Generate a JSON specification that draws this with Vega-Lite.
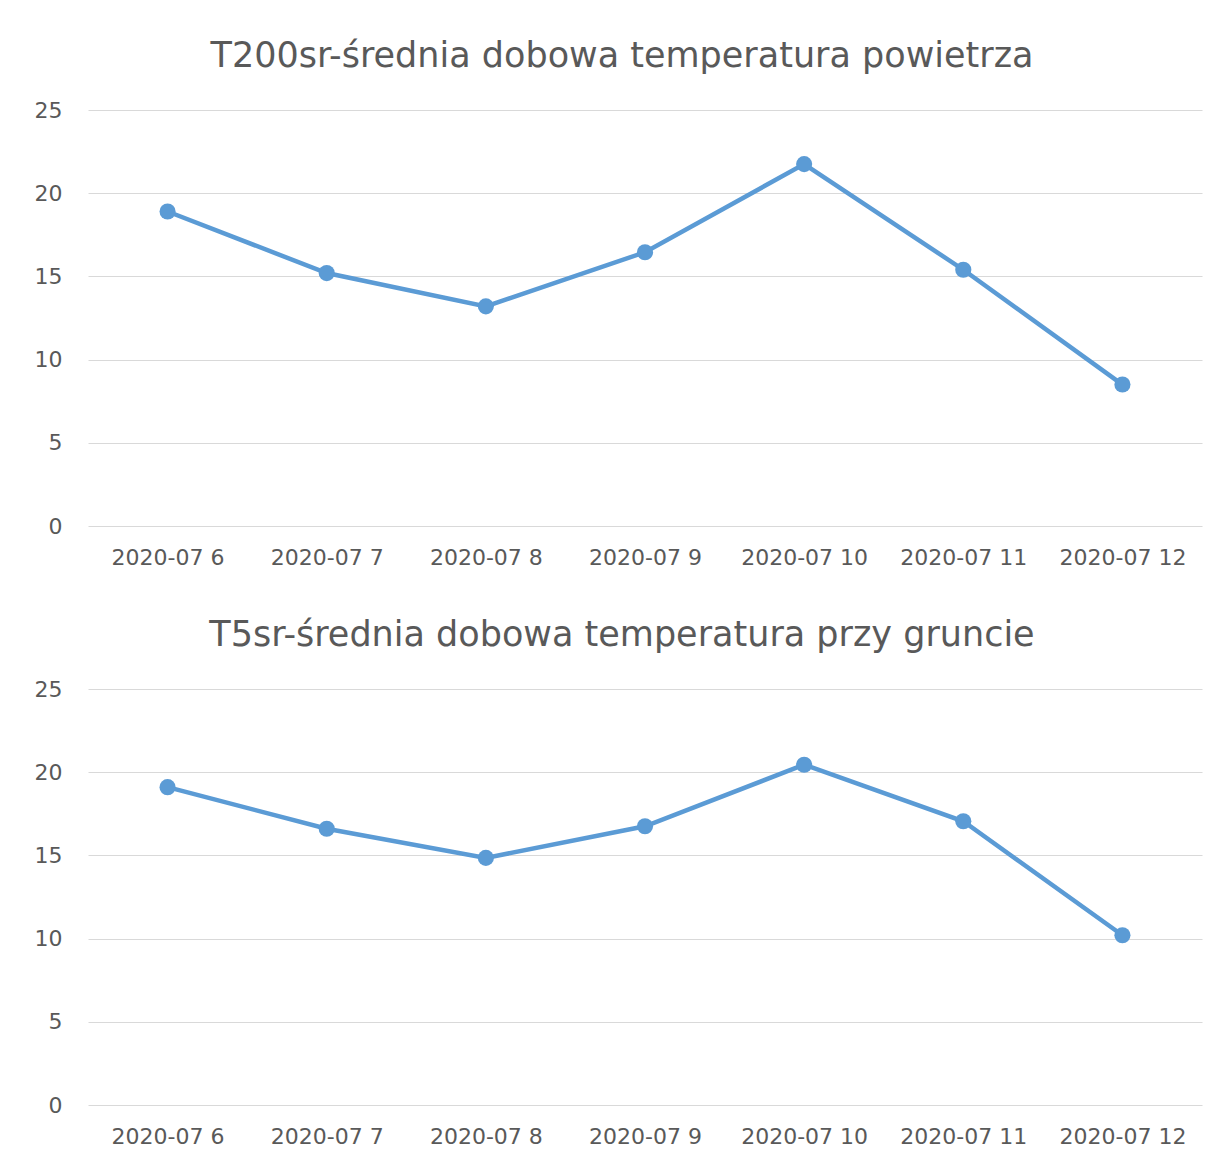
{
  "$schema": "https://vega.github.io/schema/vega-lite/v6.json",
  "background": "white",
  "padding": {"left": 34, "top": 39, "right": 20, "bottom": 5},
  "spacing": 50,
  "datasets": {
    "t200": [
      {"date": "2020-07 6", "value": 18.9},
      {"date": "2020-07 7", "value": 15.2},
      {"date": "2020-07 8", "value": 13.2},
      {"date": "2020-07 9", "value": 16.45},
      {"date": "2020-07 10", "value": 21.75},
      {"date": "2020-07 11", "value": 15.4},
      {"date": "2020-07 12", "value": 8.5}
    ],
    "t5": [
      {"date": "2020-07 6", "value": 19.1},
      {"date": "2020-07 7", "value": 16.6},
      {"date": "2020-07 8", "value": 14.85},
      {"date": "2020-07 9", "value": 16.75},
      {"date": "2020-07 10", "value": 20.45},
      {"date": "2020-07 11", "value": 17.05},
      {"date": "2020-07 12", "value": 10.2}
    ]
  },
  "config": {
    "view": {"stroke": null},
    "font": "DejaVu Sans",
    "title": {"fontSize": 35, "fontWeight": "normal", "color": "#595959", "offset": 25, "dx": -23},
    "axis": {
      "labelFont": "DejaVu Sans",
      "labelFontSize": 22,
      "labelColor": "#595959",
      "domain": false,
      "ticks": false,
      "title": null,
      "gridColor": "#d9d9d9",
      "gridWidth": 1.2
    }
  },
  "vconcat": [
    {
      "width": 1114,
      "height": 416,
      "title": "T200sr-średnia dobowa temperatura powietrza",
      "data": {"name": "t200"},
      "encoding": {
        "x": {"field": "date", "type": "ordinal", "sort": null, "scale": {"type": "point", "padding": 0.5}, "axis": {"grid": false, "labelAngle": 0, "labelPadding": 21}},
        "y": {"field": "value", "type": "quantitative", "scale": {"domain": [0, 25]}, "axis": {"values": [0, 5, 10, 15, 20, 25], "labelPadding": 26}}
      },
      "layer": [
        {"mark": {"type": "line", "color": "#5B9BD5", "strokeWidth": 4.5}},
        {"mark": {"type": "point", "filled": true, "color": "#5B9BD5", "size": 260, "opacity": 1}}
      ]
    },
    {
      "width": 1114,
      "height": 416,
      "title": "T5sr-średnia dobowa temperatura przy gruncie",
      "data": {"name": "t5"},
      "encoding": {
        "x": {"field": "date", "type": "ordinal", "sort": null, "scale": {"type": "point", "padding": 0.5}, "axis": {"grid": false, "labelAngle": 0, "labelPadding": 21}},
        "y": {"field": "value", "type": "quantitative", "scale": {"domain": [0, 25]}, "axis": {"values": [0, 5, 10, 15, 20, 25], "labelPadding": 26}}
      },
      "layer": [
        {"mark": {"type": "line", "color": "#5B9BD5", "strokeWidth": 4.5}},
        {"mark": {"type": "point", "filled": true, "color": "#5B9BD5", "size": 260, "opacity": 1}}
      ]
    }
  ]
}
